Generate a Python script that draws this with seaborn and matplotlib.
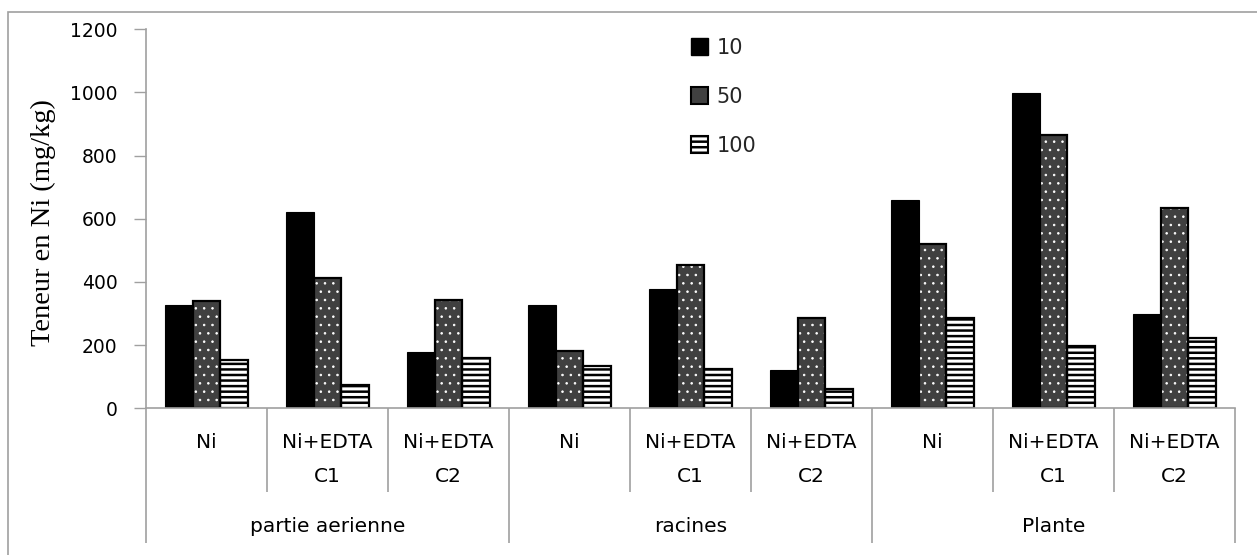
import matplotlib
matplotlib.use("Agg")
import matplotlib.pyplot as plt
import matplotlib.transforms as mtransforms
from matplotlib.patches import Rectangle, Patch
import seaborn as sns
import pandas as pd
import numpy as np

# ---- data ----
groups = ["partie aerienne", "racines", "Plante"]
treatments = ["Ni", "Ni+EDTA\nC1", "Ni+EDTA\nC2"]
doses = ["10", "50", "100"]
vals_10 = [328, 620, 177, 328, 377, 121, 658, 997, 297]
vals_50 = [341, 413, 344, 180, 453, 285, 521, 866, 634]
vals_100 = [152, 73, 160, 134, 123, 61, 285, 197, 224]
yticks = [0, 200, 400, 600, 800, 1000, 1200]
ylabel = "Teneur en Ni (mg/kg)"

cats = [f"{g}|{t}" for g in groups for t in treatments]
df = pd.DataFrame({
    "cat": cats * 3,
    "dose": np.repeat(doses, len(cats)),
    "val": vals_10 + vals_50 + vals_100,
})

sns.set_theme(style="white")
plt.rcParams["font.family"] = ["DejaVu Sans"]
plt.rcParams["hatch.linewidth"] = 1.8

W, H = 1257, 555
fig = plt.figure(figsize=(W / 100, H / 100), dpi=100)
ax = fig.add_axes([146 / W, 1 - 408.3 / H, (1235 - 146) / W, (408.3 - 29.3) / H])

sns.barplot(data=df, x="cat", y="val", hue="dose", order=cats, hue_order=doses,
            palette=["#000000", "#404040", "#ffffff"], saturation=1,
            width=0.68, gap=0, errorbar=None, edgecolor="black", linewidth=1.5,
            legend=False, ax=ax)

c10, c50, c100 = ax.containers[:3]
for p in c10:
    p.set_edgecolor("black")
    p.set_linewidth(0.8)
for p in c50:
    p.set_hatch("..")
    p.set_edgecolor("white")
    p.set_linewidth(0)
    if hasattr(p, "set_hatch_linewidth"):
        p.set_hatch_linewidth(0.6)
    ax.add_patch(Rectangle(p.get_xy(), p.get_width(), p.get_height(), fill=False,
                           edgecolor="black", linewidth=1.6, zorder=p.get_zorder() + 0.1))
for p in c100:
    p.set_facecolor("white")
    p.set_hatch("---")
    p.set_edgecolor("black")
    p.set_linewidth(1.6)
    if hasattr(p, "set_hatch_linewidth"):
        p.set_hatch_linewidth(1.8)

ax.set_ylim(0, 1200)
ax.set_xlim(-0.5, len(cats) - 0.5)
ax.set_yticks(yticks)
ax.set_yticklabels([str(v) for v in yticks], fontsize=13.5, color="black")
ax.tick_params(axis="y", direction="out", length=8.5, width=1, color="#a0a0a0",
               pad=12, left=True)
ax.set_xticks(range(len(cats)))
ax.set_xticklabels([""] * len(cats))
ax.tick_params(axis="x", length=0)
ax.set_xlabel("")
ax.set_ylabel(ylabel, fontsize=20.5, family=["Liberation Serif"], color="black")
ax.yaxis.set_label_coords((56 - 146) / (1235 - 146), (408.3 - 223) / 379)

for s in ["top", "right"]:
    ax.spines[s].set_visible(False)
for s in ["left", "bottom"]:
    ax.spines[s].set_color("#a0a0a0")
    ax.spines[s].set_linewidth(1.2)

trans = mtransforms.blended_transform_factory(ax.transData, ax.transAxes)
def ay(py):
    return (408.3 - py) / 379.0

# category labels
for i, c in enumerate(cats):
    t = c.split("|")[1]
    for k, line in enumerate(t.split("\n")):
        ax.text(i, ay(443 + 34 * k), line, transform=trans, ha="center", va="center",
                fontsize=14.5, color="black")
# group labels
for gi, g in enumerate(groups):
    ax.text(gi * 3 + 1, ay(527), g, transform=trans, ha="center", va="center",
            fontsize=14.5, color="black")
# divider lines
for b in range(len(cats) + 1):
    x = b - 0.5
    y_end = ay(543) if b % 3 == 0 else ay(492)
    ax.plot([x, x], [0, y_end], transform=trans, color="#a0a0a0", lw=1.2,
            clip_on=False, solid_capstyle="butt")

# legend
handles = [
    Patch(facecolor="#000000", edgecolor="black", linewidth=1),
    Patch(facecolor="#404040", edgecolor="black", linewidth=1.5),
    Patch(facecolor="white", edgecolor="black", linewidth=1.5, hatch="---"),
]
leg = fig.legend(handles, doses, loc="upper left",
                 bbox_to_anchor=(690.7 / W, 1 - 38 / H), frameon=False,
                 fontsize=15, handlelength=0.85, handleheight=0.85,
                 handletextpad=0.4, labelspacing=1.38, borderpad=0,
                 borderaxespad=0)

# outer chart border (right and bottom edges fall outside the picture)
fig.add_artist(Rectangle((8 / W, -10 / H), (1270 - 8) / W, (555 + 10 - 12) / H,
                         transform=fig.transFigure, fill=False,
                         edgecolor="#a0a0a0", linewidth=1.2))

fig.savefig("out.png", dpi=100)
